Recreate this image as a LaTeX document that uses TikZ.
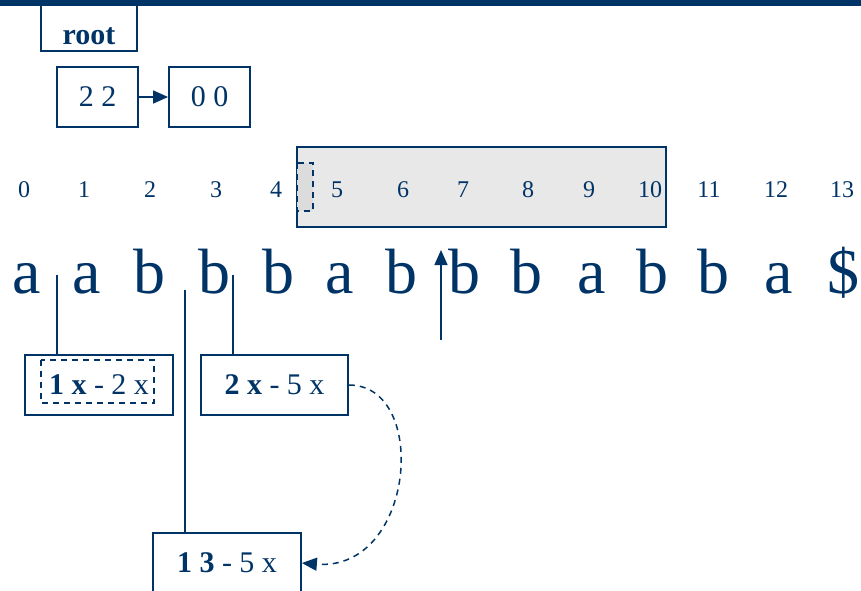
\documentclass[tikz,border=0pt]{standalone}
\usepackage{fontspec}
\setmainfont{Liberation Serif}
\usetikzlibrary{arrows.meta}
\definecolor{navy}{HTML}{003366}
\definecolor{shade}{HTML}{E8E8E8}
\definecolor{shadedark}{HTML}{DCDCDC}
\tikzset{
  cell/.style={draw=navy, line width=1.8pt, text=navy, minimum height=60pt, inner sep=0pt, font=\fontsize{30}{30}\selectfont},
  idx/.style={text=navy, font=\fontsize{24}{24}\selectfont, anchor=base},
  chr/.style={text=navy, font=\fontsize{64}{64}\selectfont, anchor=base},
  link/.style={draw=navy, line width=1.5pt},
  tip/.style={-{Triangle[length=15pt,width=13pt]}},
  dashline/.style={dash pattern=on 6pt off 5pt}
}
\begin{document}
\begin{tikzpicture}[x=1pt,y=-1pt]
\clip (0,0) rectangle (861,590);
\fill[white] (0,0) rectangle (861,590);

% root pointer and list of pairs
\draw[navy, line width=1.8pt] (41,-10) rectangle (137,51);
\node[text=navy, font=\bfseries\fontsize{30}{30}\selectfont] (root) at (89,36) {root};
\fill[navy] (0,0) rectangle (861,6);
\node[cell, minimum width=81pt] (p22) at (97.5,97) {2 2};
\node[cell, minimum width=81pt] (p00) at (209.5,97) {0 0};
\draw[link, tip] (p22) -- (p00);

% highlighted window over positions 4..10
\draw[navy, line width=1.8pt, fill=shade] (297,147) rectangle (666,227);
\draw[navy, line width=1.6pt, fill=shadedark, dashline] (297,163) rectangle (313,211);

% position indices
\foreach \i/\x in {0/24,1/84,2/150,3/216,4/276,5/337,6/403,7/463,8/528,9/589,10/650,11/709,12/776,13/842}
  \node[idx] (n\i) at (\x,197) {\i};

% the string
\foreach \i/\x/\c in {0/27/a,1/87/a,2/149/b,3/214/b,4/278/b,5/340/a,6/401/b,7/464/b,8/526/b,9/592/a,10/652/b,11/713/b,12/779/a,13/843/\$}
  \node[chr] (l\i) at (\x,293) {\c};

% suffix boxes
\node[cell, minimum width=148pt] (b12) at (99,385) {\textbf{1 x} - 2 x};
\draw[navy, line width=1.5pt, dashline] (41,360) rectangle (154,403);
\node[cell, minimum width=147pt] (b25) at (274.5,385) {\textbf{2 x} - 5 x};
\node[cell, minimum width=148pt, minimum height=66pt, anchor=north] (b13) at (227,532) {};
\node[text=navy, font=\fontsize{30}{30}\selectfont] (t13) at (227,563) {\textbf{1 3} - 5 x};

% pointers from string positions to boxes
\coordinate (c1) at (57,275);
\coordinate (c2) at (185,290);
\coordinate (c3) at (233,275);
\draw[link] (c1) -- (c1 |- b12.north);
\draw[link] (c2) -- (c2 |- b13.north);
\draw[link] (c3) -- (c3 |- b25.north);

% current position marker
\coordinate (m0) at (441,340);
\coordinate (m1) at (441,250);
\draw[link, tip] (m0) -- (m1);

% suffix link
\draw[link, dashline, tip] (b25.east) .. controls (430,385) and (415,572) .. (b13.east |- t13);
\end{tikzpicture}
\end{document}
